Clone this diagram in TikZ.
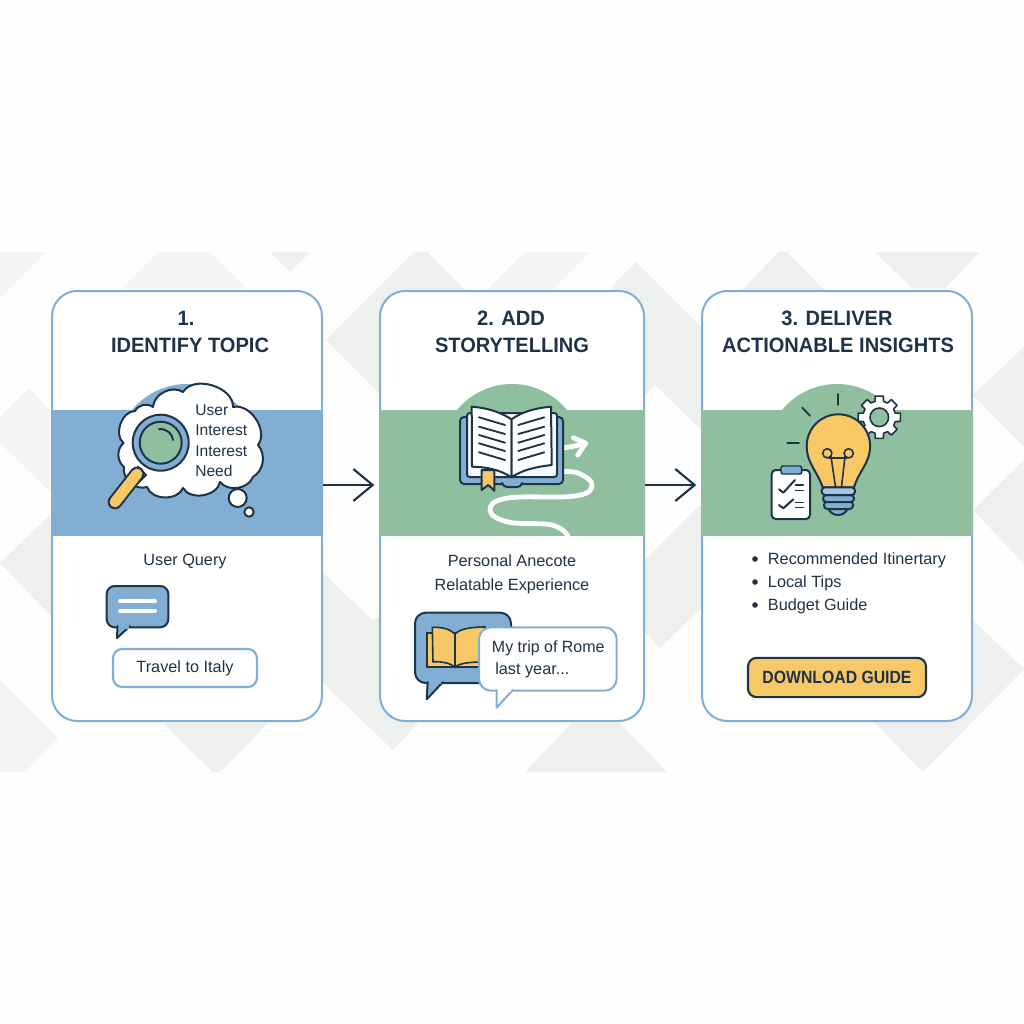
\documentclass[tikz,border=0pt]{standalone}
\usepackage{fontspec}
\setmainfont{Liberation Sans}
\usetikzlibrary{arrows.meta,calc}
\definecolor{ink}{HTML}{1F3347}
\definecolor{cblue}{HTML}{82AED4}
\definecolor{cedge}{HTML}{7FAFD6}
\definecolor{cgreen}{HTML}{8FBF9F}
\definecolor{cyel}{HTML}{F9C866}
\definecolor{bgg}{HTML}{EEEFEF}
\definecolor{bgl}{HTML}{F3F4F4}
\definecolor{paper}{HTML}{FEFEFE}
\newcommand{\hd}[1]{\scalebox{0.965}[1]{#1}}
\tikzset{
  x=0.75pt,y=-0.75pt,
  card/.style={draw=cedge,line width=1.5pt,fill=white,rounded corners=19pt,inner sep=0pt,minimum height=322.5pt},
  icon/.style={draw=ink,line width=1.5pt,line join=round,line cap=round},
  rule/.style={draw=ink,line width=1.4pt,line cap=round},
  whiteline/.style={draw=white,line width=3.6pt,line cap=round},
  head/.style={text=ink,font=\fontsize{15.6pt}{18pt}\selectfont\bfseries,inner sep=0pt},
  body/.style={text=ink,font=\fontsize{12.2pt}{15pt}\selectfont,inner sep=0pt},
  bodyl/.style={body,anchor=west},
  cloudtext/.style={bodyl,font=\fontsize{11.7pt}{14pt}\selectfont},
  flow/.style={draw=ink,line width=1.6pt,shorten >=3.5pt,-{Straight Barb[length=14.5pt,width=24pt,line width=1.6pt]}},
  softbox/.style={draw=cedge,line width=1.6pt,fill=white,rounded corners=7pt,inner sep=0pt},
}
\begin{document}
\begin{tikzpicture}
\useasboundingbox (0,0) rectangle (1024,1024);
\fill[paper] (0,0) rectangle (1024,1024);
% background pattern
\fill[bgl] (0,252) -- (46,252) -- (0,298) -- cycle;
\fill[bgl] (122,288) -- (158,252) -- (210,252) -- (247,288) -- cycle;
\fill[bgg] (270,252) -- (310,252) -- (290,272) -- cycle;
\fill[bgg] (326,340) -- (414,252) -- (427,252) -- (515,340) -- (427,428) -- (414,428) -- cycle;
\fill[bgl] (487,290) -- (525,252) -- (590,252) -- (552,290) -- cycle;
\fill[bgg] (612,286) -- (636,262) -- (720,346) -- (720,448) -- (655,385) -- (620,420) -- cycle;
\fill[bgg] (742,290) -- (779,252) -- (787,252) -- (824,290) -- cycle;
\fill[bgg] (875,252) -- (980,252) -- (945,288) -- (912,288) -- cycle;
\fill[bgg] (1024,347) -- (973,395) -- (1024,447) -- cycle;
\fill[bgg] (1024,460) -- (973,510) -- (1024,564) -- cycle;
\fill[bgg] (973,620) -- (1024,669) -- (923,772) -- (875,723) -- cycle;
\fill[bgg] (645,560) -- (700,505) -- (720,505) -- (720,590) -- (660,648) -- (640,627) -- cycle;
\fill[bgl] (29,388) -- (0,417) -- (0,443) -- (52,493) -- (70,493) -- (70,420) -- (60,420) -- cycle;
\fill[bgg] (0,563) -- (52,513) -- (70,513) -- (70,633) -- (52,617) -- cycle;
\fill[bgl] (0,680) -- (58,738) -- (25,772) -- (0,772) -- cycle;
\fill[bgg] (163,723) -- (213,772) -- (220,772) -- (268,723) -- cycle;
\fill[bgg] (323,573) -- (372,620) -- (390,612) -- (418,723) -- (393,750) -- (323,683) -- cycle;
\fill[bgg] (525,772) -- (572,723) -- (619,723) -- (667,772) -- cycle;
% cards
\node[card,minimum width=202.5pt] (card1) at (187,506) {};
\node[card,minimum width=198pt] (card2) at (512,506) {};
\node[card,minimum width=202.5pt] (card3) at (837,506) {};
% bands and domes
\fill[cblue] (51,410) rectangle (323,536);
\fill[cblue] (187,455) circle[radius=71];
\fill[cgreen] (379,410) rectangle (645,536);
\fill[cgreen] (512,455) circle[radius=71];
\fill[cgreen] (701,410) rectangle (973,536);
\fill[cgreen] (837,455) circle[radius=71];
% connectors
\coordinate (fy) at (0,485);
\draw[flow] (card1.east |- fy) -- (card2.west |- fy);
\draw[flow] (card2.east |- fy) -- (card3.west |- fy);
% titles
\node[head] (t1a) at (186,318) {\hd{1.}};
\node[head] (t1b) at (190,345) {\hd{IDENTIFY TOPIC}};
\node[head] (t2a) at (511,318) {\hd{2. ADD}};
\node[head] (t2b) at (512,345) {\hd{STORYTELLING}};
\node[head] (t3a) at (837,318) {\hd{3. DELIVER}};
\node[head] (t3b) at (838,345) {\hd{ACTIONABLE INSIGHTS}};
% cloud
\draw[icon,fill=white] (123.5,443)
  to[bend left=70] (135,411)
  to[bend left=50] (153,407)
  to[bend left=60] (183,392)
  to[bend left=75] (233,407)
  to[bend left=70] (258,445)
  to[bend left=50] (253,477)
  to[bend left=60] (220,482)
  to[bend left=70] (183,488)
  to[bend left=70] (147,487)
  to[bend left=60] (124,467)
  to[bend left=50] cycle;
\draw[icon,fill=white] (237.7,498) circle[radius=9];
\draw[icon,fill=white] (249,512) circle[radius=4.7];
% magnifier
\draw[draw=ink,line width=1.5pt,fill=white] (138,467) -- (146,475) -- (139,482) -- (131,474) -- cycle;
\draw[draw=ink,line width=11pt,line cap=round] (115,502) -- (137,474);
\draw[draw=cyel,line width=8pt,line cap=round] (115,502) -- (137,474);
\draw[icon,fill=cblue] (160.7,442.7) circle[radius=28];
\draw[icon,fill=cgreen] (160.7,442.7) circle[radius=21];
\draw[icon] (159,429) .. controls (168,429) and (172,434) .. (173,440);
% cloud text
\node[cloudtext] (c1) at (195,410) {User};
\node[cloudtext] (c2) at (195,430) {Interest};
\node[cloudtext] (c3) at (195,451) {Interest};
\node[cloudtext] (c4) at (195,471) {Need};
% lower card 1
\node[body] (q1) at (185,562) {User Query};
\draw[icon,fill=cblue,rounded corners=6pt] (106.7,586) -- (168.3,586) -- (168.3,627.3) -- (106.7,627.3) -- cycle;
\draw[icon,fill=cblue] (117.5,626) -- (117,638) -- (130,626);
\draw[draw=cblue,line width=2pt] (118.5,627.3) -- (129,627.3);
\draw[whiteline,line width=2.8pt] (120,601) -- (155,601);
\draw[whiteline,line width=2.8pt] (120,611) -- (155,611);
\node[softbox,minimum width=108pt,minimum height=28.5pt,body] (q2) at (185,668) {Travel to Italy};
% book icon
\draw[whiteline] plot[smooth,tension=0.7] coordinates {(560,472) (578,473) (592,485) (575,496) (508,498) (490,510) (508,522) (552,525) (568,536)};
\draw[whiteline] (556,448.5) .. controls (566,448) and (576,446) .. (585.7,443.3);
\draw[whiteline,line join=round] (573.3,437.7) -- (585.7,443.3) -- (577.7,455);
\draw[icon,fill=cblue,rounded corners=3pt] (460,417) rectangle (563,484);
\draw[icon,fill=cblue] (502,483) .. controls (504,487) and (506,487) .. (510,487) -- (517,487) .. controls (520,487) and (521,486) .. (522,483);
\draw[icon,fill=white!92!cblue,rounded corners=2pt] (467,413) rectangle (557,477);
\draw[icon,fill=white] (471.7,406.7) .. controls (488,408) and (500,412) .. (511.5,419.3) -- (511.5,477.3) .. controls (500,470) and (488,467) .. (472,466.7) -- cycle;
\draw[icon,fill=white] (511.5,419.3) .. controls (522,412) and (535,408) .. (551,406.7) -- (551.7,465) .. controls (535,467) and (522,470) .. (511.5,477.3) -- cycle;
\foreach \ya/\yb in {417.3/425,426.7/434,435/442.7,443.3/451,452.3/460}{
  \draw[rule] (479,\ya) -- (505,\yb);
  \draw[rule] (518.3,\yb) -- (544.3,\ya);
}
\draw[icon,fill=cyel] (481.7,470) -- (494.3,470) -- (494.3,490.7) -- (488.3,485) -- (481.7,490) -- cycle;
% card 2 text
\node[body] (s1) at (512,561) {Personal Anecote};
\node[body] (s2) at (512,586) {Relatable Experience};
% chat pair
\draw[icon,fill=cblue,rounded corners=8pt] (415,612.7) -- (511,612.7) -- (511,683) -- (415,683) -- cycle;
\draw[icon,fill=cblue] (427.7,682) -- (426.7,699.3) -- (443,682);
\draw[draw=cblue,line width=2pt] (429,683) -- (441,683);
\draw[draw=ink,line width=1.2pt,fill=cyel] (427,633) -- (427,667) -- (485,667) -- (485,633) -- cycle;
\draw[draw=ink,line width=1.2pt,fill=cyel] (432.3,627.3) .. controls (442,627) and (450,629) .. (455,634) -- (455,667) .. controls (450,663) and (442,661.5) .. (433,661.7) -- cycle;
\draw[draw=ink,line width=1.2pt,fill=cyel] (455,634) .. controls (460,629) and (470,627) .. (485,627) -- (485,662) .. controls (470,662) and (460,663) .. (455,667) -- cycle;
\draw[draw=cedge,line width=1.5pt,fill=white,rounded corners=9pt] (479,627.3) -- (616.7,627.3) -- (616.7,690.7) -- (479,690.7) -- cycle;
\draw[draw=cedge,line width=1.5pt,line join=round,fill=white] (496.7,689.7) -- (496.7,707.7) -- (513,689.7);
\draw[draw=white,line width=2pt] (498,690.7) -- (511,690.7);
\node[bodyl] (r1) at (491.7,648) {\scalebox{0.98}[1]{My trip of Rome}};
\node[bodyl] (r2) at (495,670) {last year...};
% bulb
\draw[rule] (838,394) -- (838,405);
\draw[rule] (802.3,407.7) -- (810,415.7);
\draw[rule] (787.3,442.7) -- (799,442.7);
\begin{scope}[shift={(879.3,417.3)}]
\draw[draw=ink,line width=1.2pt,fill=white,line join=round] (-11:21.5) \foreach \a in {0,45,...,315} { -- (\a-11:21.5) -- (\a+11:21.5) -- (\a+15:16.5) -- (\a+30:16.5) } -- cycle;
\draw[draw=ink,line width=1.2pt,fill=cgreen] (0,0) circle[radius=9.3];
\end{scope}
\draw[icon,fill=cyel] (822.7,487.3) .. controls (816.7,470) and (806.7,463.3) .. (806.7,446) arc[start angle=180,end angle=360,radius=31.7] .. controls (870,463.3) and (859.3,470) .. (854,487.3) -- cycle;
\draw[icon,line width=1.2pt] (827.3,453.3) circle[radius=4.6];
\draw[icon,line width=1.2pt] (848.7,453.3) circle[radius=4.6];
\draw[icon,line width=1.2pt] (831,456.5) -- (835.5,487);
\draw[icon,line width=1.2pt] (845,456.5) -- (841.5,487);
\draw[icon,line width=1.2pt] (829,458) -- (847,458);
\draw[icon,fill=cblue] (828,508) .. controls (830,513) and (834,515) .. (838,515) .. controls (842,515) and (846,513) .. (848,508) -- cycle;
\draw[icon,fill=cblue,rounded corners=2.5pt] (824,501.5) rectangle (853,509);
\draw[icon,fill=cblue,rounded corners=2.5pt] (823,495) rectangle (854,502);
\draw[icon,fill=cblue!70!white,rounded corners=2.5pt] (821.7,487.3) rectangle (855,495);
% clipboard
\draw[icon,fill=white,rounded corners=3pt] (771.7,470) rectangle (810,519);
\draw[icon,line width=1.1pt,fill=cblue,rounded corners=1.5pt] (781,466) rectangle (801.7,474);
\draw[icon] (779,489.3) -- (783.3,492.7) -- (795,480);
\draw[icon] (779,505) -- (783.3,508.3) -- (793.3,499.3);
\foreach \yy in {485,490.7,502.3,507.7}{\draw[rule,line width=1.1pt] (795.5,\yy) -- (803.3,\yy);}
% list
\foreach \yy/\nn/\tt in {559/l1/Recommended Itinertary,582/l2/Local Tips,605/l3/Budget Guide}{
  \fill[ink] (755,\yy) circle[radius=2.8];
  \node[bodyl] (\nn) at (767.7,\yy+1) {\tt};
}
% button
\node[draw=ink,line width=1.6pt,fill=cyel,rounded corners=6.5pt,minimum width=133.5pt,minimum height=29.5pt,inner sep=0pt,text=ink,font=\fontsize{13.3pt}{15pt}\selectfont\bfseries] (dl) at (837,677.5) {\scalebox{0.89}[1]{DOWNLOAD GUIDE}};
\end{tikzpicture}
\end{document}
